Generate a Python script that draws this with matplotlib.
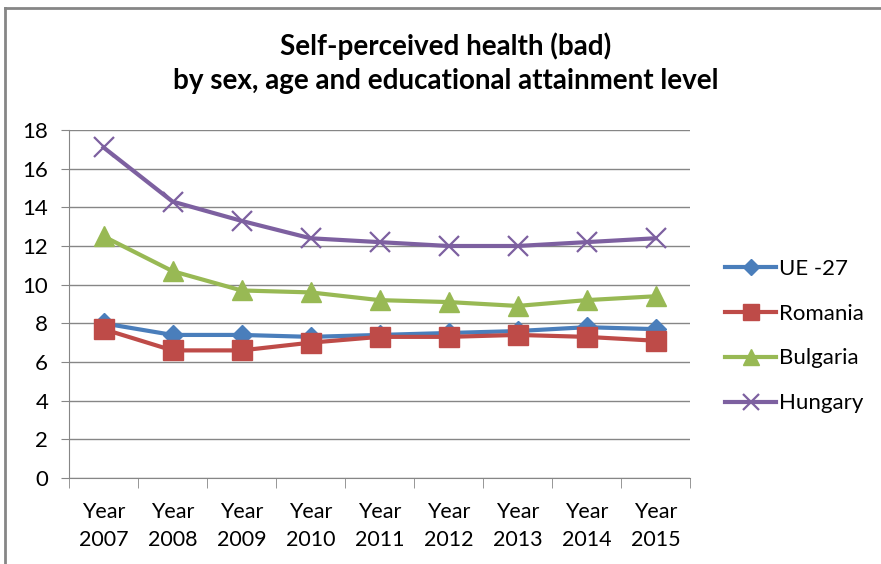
import matplotlib.pyplot as plt
from matplotlib.lines import Line2D

plt.rcParams['font.family'] = ['Lato', 'DejaVu Sans']

years = ['Year\n2007', 'Year\n2008', 'Year\n2009', 'Year\n2010', 'Year\n2011',
         'Year\n2012', 'Year\n2013', 'Year\n2014', 'Year\n2015']
ue27 = [8.0, 7.4, 7.4, 7.3, 7.4, 7.5, 7.6, 7.8, 7.7]
romania = [7.7, 6.6, 6.6, 7.0, 7.3, 7.3, 7.4, 7.3, 7.1]
bulgaria = [12.5, 10.7, 9.7, 9.6, 9.2, 9.1, 8.9, 9.2, 9.4]
hungary = [17.1, 14.3, 13.3, 12.4, 12.2, 12.0, 12.0, 12.2, 12.4]

fig = plt.figure(figsize=(8.81, 5.64), dpi=100)
ax = fig.add_axes([69 / 881, 1 - 478 / 564, 621 / 881, 348 / 564])

x = range(len(years))
ax.plot(x, ue27, color='#4A7EBB', lw=3, marker='D', ms=10, label='UE -27')
ax.plot(x, romania, color='#BE4B48', lw=3, marker='s', ms=14, label='Romania')
ax.plot(x, bulgaria, color='#98B954', lw=3, marker='^', ms=15, label='Bulgaria')
ax.plot(x, hungary, color='#7D60A0', lw=3, marker='x', ms=14, mew=1.6, label='Hungary')

ax.set_xlim(-0.5, len(years) - 0.5)
ax.set_ylim(0, 18)
ax.set_yticks(range(0, 19, 2))
ax.set_xticks(list(x))
ax.set_xticklabels(years, fontsize=15.5, linespacing=1.55)
ax.tick_params(axis='x', length=0, pad=17)
ax.set_xticks([i - 0.5 for i in range(len(years) + 1)], minor=True)
ax.tick_params(axis='x', which='minor', length=7, color='#868686')
ax.tick_params(axis='y', labelsize=16, length=6, color='#868686', pad=9)
ax.grid(axis='y', color='#868686', lw=1)
ax.set_axisbelow(True)
for side in ['top', 'right']:
    ax.spines[side].set_visible(False)
ax.spines['left'].set_color('#868686')
ax.spines['bottom'].set_color('#868686')

fig.text(446 / 881, 1 - 63 / 564,
         'Self-perceived health (bad)\nby sex, age and educational attainment level',
         ha='center', va='center', fontsize=20, fontweight='bold', linespacing=1.4)

fig.legend(*ax.get_legend_handles_labels(), loc='center left',
           bbox_to_anchor=(725 / 881, 1 - 336 / 564), frameon=False,
           borderpad=0, borderaxespad=0, fontsize=16, handlelength=2.3,
           handletextpad=0.15, labelspacing=1.12, markerscale=0.8)

# chart frame
fig.add_artist(Line2D([5 / 881, 5 / 881], [0, 1 - 8 / 564], color='#868686', lw=2))
fig.add_artist(Line2D([5 / 881, 1], [1 - 8 / 564, 1 - 8 / 564], color='#868686', lw=2))

fig.savefig('out.png', dpi=100)
